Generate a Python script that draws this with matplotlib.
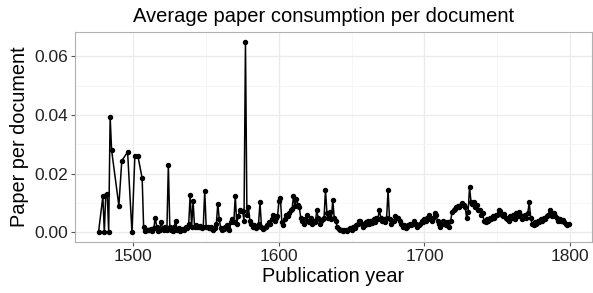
import matplotlib
matplotlib.use("Agg")
import matplotlib.pyplot as plt
import numpy as np

plt.rcParams['font.family'] = ['Liberation Sans', 'DejaVu Sans']

early_years = [1476, 1479, 1480, 1481, 1482, 1483, 1484, 1485, 1490, 1492, 1496, 1499, 1501, 1503]
early_vals = [0.0, 0.0123, 0.0, 0.0129, 0.013, 0.0003, 0.0394, 0.028, 0.0091, 0.0244, 0.0274, 0.0, 0.0262, 0.0262]

start_year = 1506
vals = [
    0.0185, 0.002, 0.0005, 0.001, 0.0008, 0.001, 0.0012, 0.0005, 0.0015, 0.005,  # 1506-1515
    0.002, 0.0005, 0.001, 0.0035, 0.0015, 0.001, 0.002, 0.0008, 0.0229, 0.002,    # 1516-1525
    0.001, 0.0005, 0.002, 0.004, 0.001, 0.0015, 0.0005, 0.001, 0.0012, 0.0008,    # 1526-1535
    0.002, 0.0015, 0.003, 0.0129, 0.002, 0.0106, 0.002, 0.0025, 0.0018, 0.002,    # 1536-1545
    0.0022, 0.0015, 0.002, 0.0142, 0.002, 0.0018, 0.0015, 0.002, 0.0012, 0.001,   # 1546-1555
    0.0015, 0.003, 0.0098, 0.0045, 0.0015, 0.001, 0.0012, 0.0018, 0.0025, 0.0015, # 1556-1565
    0.001, 0.0035, 0.0045, 0.0035, 0.0125, 0.003, 0.0055, 0.0075, 0.0072, 0.0072, # 1566-1575
    0.004, 0.065, 0.006, 0.0088, 0.004, 0.003, 0.002, 0.0025, 0.0015, 0.002,      # 1576-1585
    0.003, 0.0103, 0.002, 0.0012, 0.0015, 0.002, 0.0025, 0.0035, 0.003, 0.0045,   # 1586-1595
    0.006, 0.004, 0.005, 0.0055, 0.0106, 0.0117, 0.0035, 0.0025, 0.0045, 0.006,   # 1596-1605
    0.0055, 0.0065, 0.0075, 0.008, 0.0123, 0.009, 0.0115, 0.0095, 0.0085, 0.005,  # 1606-1615
    0.004, 0.003, 0.0045, 0.006, 0.004, 0.0035, 0.005, 0.003, 0.004, 0.0035,      # 1616-1625
    0.0075, 0.005, 0.003, 0.004, 0.0045, 0.005, 0.0146, 0.0065, 0.005, 0.007,     # 1626-1635
    0.0045, 0.011, 0.005, 0.004, 0.002, 0.0012, 0.0008, 0.001, 0.0005, 0.0008,    # 1636-1645
    0.001, 0.0006, 0.0012, 0.0015, 0.001, 0.002, 0.0015, 0.0025, 0.003, 0.0038,   # 1646-1655
    0.004, 0.003, 0.002, 0.0025, 0.0035, 0.004, 0.003, 0.0038, 0.0032, 0.0045,    # 1656-1665
    0.0035, 0.005, 0.0045, 0.0078, 0.005, 0.004, 0.0045, 0.0035, 0.005, 0.0144,   # 1666-1675
    0.0045, 0.003, 0.0038, 0.004, 0.0055, 0.0048, 0.005, 0.004, 0.003, 0.002,     # 1676-1685
    0.0025, 0.0015, 0.002, 0.0025, 0.003, 0.0025, 0.003, 0.004, 0.003, 0.002,     # 1686-1695
    0.0025, 0.003, 0.004, 0.0035, 0.0045, 0.004, 0.005, 0.006, 0.0045, 0.004,     # 1696-1705
    0.005, 0.0065, 0.0058, 0.004, 0.003, 0.002, 0.003, 0.004, 0.0035, 0.0025,     # 1706-1715
    0.0035, 0.002, 0.004, 0.007, 0.0075, 0.008, 0.0085, 0.009, 0.0088, 0.0095,    # 1716-1725
    0.010, 0.0095, 0.0085, 0.005, 0.007, 0.0154, 0.0105, 0.0098, 0.0102, 0.0085,  # 1726-1735
    0.0095, 0.0075, 0.0077, 0.006, 0.0065, 0.004, 0.0037, 0.0045, 0.004, 0.005,   # 1736-1745
    0.0045, 0.0055, 0.005, 0.0058, 0.006, 0.0075, 0.0072, 0.006, 0.0055, 0.0062,  # 1746-1755
    0.005, 0.0045, 0.004, 0.0055, 0.005, 0.006, 0.0045, 0.0065, 0.0055, 0.007,    # 1756-1765
    0.006, 0.0045, 0.0055, 0.006, 0.005, 0.0065, 0.0102, 0.005, 0.003, 0.0025,    # 1766-1775
    0.0035, 0.003, 0.004, 0.0035, 0.0045, 0.004, 0.005, 0.0045, 0.0055, 0.006,    # 1776-1785
    0.0078, 0.006, 0.0055, 0.0065, 0.0055, 0.005, 0.004, 0.0045, 0.0038, 0.0042,  # 1786-1795
    0.0035, 0.003, 0.0025, 0.003,                                                  # 1796-1799
]
years = early_years + list(range(start_year, start_year + len(vals)))
values = early_vals + vals

x_ticks = [1500, 1600, 1700, 1800]
y_ticks = [0.00, 0.02, 0.04, 0.06]

fig = plt.figure(figsize=(5.93, 2.93), dpi=100)
ax = fig.add_axes([75/593, 1 - 242/293, 517/593, 210/293])

ax.plot(years, values, color='black', lw=1.1, marker='o', ms=2.9, mec='black', mfc='black')

xmin, xmax = min(years), max(years)
ymax = max(values)
ax.set_xlim(xmin - 0.05*(xmax-xmin), xmax + 0.05*(xmax-xmin))
ax.set_ylim(-0.05*ymax, ymax*1.05)

ax.set_xticks(x_ticks)
ax.set_xticklabels([str(t) for t in x_ticks])
ax.set_yticks(y_ticks)
ax.set_yticklabels([f"{t:.2f}" for t in y_ticks])
ax.set_xticks([1550, 1650, 1750], minor=True)
ax.set_yticks([0.01, 0.03, 0.05], minor=True)
ax.grid(True, which='major', color='#ebebeb', lw=0.9)
ax.grid(True, which='minor', color='#f5f5f5', lw=0.6)
ax.set_axisbelow(True)
ax.tick_params(which='minor', length=0)
ax.tick_params(which='major', length=3, color='#555555', labelsize=12.5, labelcolor='#222222', pad=2)
for s in ax.spines.values():
    s.set_color('#b0b0b0')
    s.set_linewidth(0.8)

fig.text(323.5/593, 1 - 16/293, "Average paper consumption per document", fontsize=14.5,
         ha='center', va='center')
ax.set_xlabel("Publication year", fontsize=14.3, labelpad=2)
ax.set_ylabel("Paper per document", fontsize=14.3, labelpad=4)

fig.savefig("out.png", dpi=100)
